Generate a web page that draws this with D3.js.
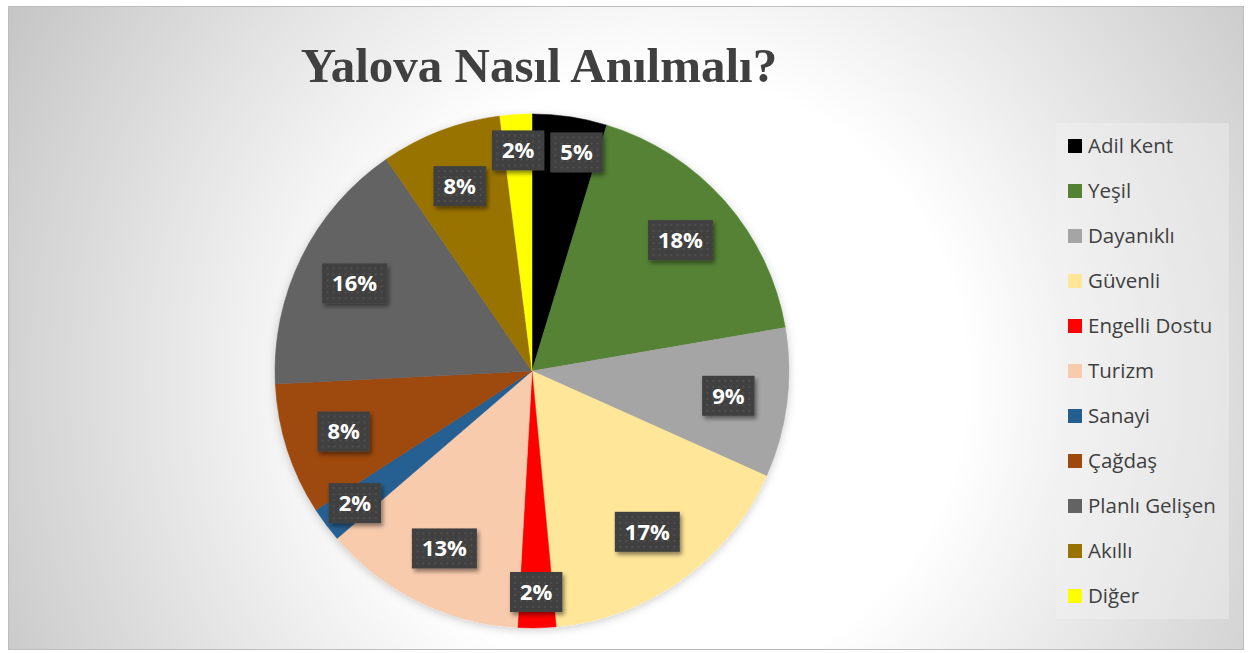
<!DOCTYPE html>
<html lang="en">

<head>
    <meta charset="UTF-8">
    <title>Yalova Nasıl Anılmalı?</title>
    <script src="https://d3js.org/d3.v7.min.js"></script>
</head>
<style>
    body {
        margin: 0;
        background: #ffffff;
    }
</style>

<body>
    <div id="chart"></div>
    <script>
        const categories = ["Adil Kent", "Yeşil", "Dayanıklı", "Güvenli", "Engelli Dostu", "Turizm", "Sanayi", "Çağdaş", "Planlı Gelişen", "Akıllı", "Diğer"];
        const values = [4.7, 17.6, 9.4, 16.8, 2.4, 12.8, 2.2, 8.3, 16.2, 7.6, 2.0];
        const colors = ["#000000", "#548235", "#a5a5a5", "#ffe699", "#ff0000", "#f8cbad", "#255e91", "#9e480e", "#636363", "#997300", "#ffff00"];
        const title = "Yalova Nasıl Anılmalı?";

        const width = 1250,
            height = 653;
        const cx = 532,
            cy = 371,
            radius = 257;

        const svg = d3.select('#chart')
            .append('svg')
            .attr('width', width)
            .attr('height', height);

        const defs = svg.append('defs');

        // background gradient, white around the pie
        const grad = defs.append('radialGradient')
            .attr('id', 'bg')
            .attr('gradientUnits', 'userSpaceOnUse')
            .attr('cx', 660)
            .attr('cy', 380)
            .attr('r', 760);
        grad.append('stop').attr('offset', 0).attr('stop-color', '#ffffff');
        grad.append('stop').attr('offset', 0.4).attr('stop-color', '#ffffff');
        grad.append('stop').attr('offset', 1).attr('stop-color', '#c4c4c4');

        // dotted texture for the label boxes
        const pat = defs.append('pattern')
            .attr('id', 'dots')
            .attr('patternUnits', 'userSpaceOnUse')
            .attr('width', 6)
            .attr('height', 6);
        pat.append('rect').attr('width', 6).attr('height', 6).attr('fill', '#404040');
        pat.append('circle').attr('cx', 3).attr('cy', 3).attr('r', 0.9).attr('fill', '#575757');

        const shadow = defs.append('filter')
            .attr('id', 'boxShadow')
            .attr('x', '-30%').attr('y', '-30%')
            .attr('width', '160%').attr('height', '160%');
        shadow.append('feDropShadow')
            .attr('dx', 2).attr('dy', 3)
            .attr('stdDeviation', 2)
            .attr('flood-color', '#000')
            .attr('flood-opacity', 0.45);

        const pieShadow = defs.append('filter')
            .attr('id', 'pieShadow')
            .attr('x', '-10%').attr('y', '-10%')
            .attr('width', '120%').attr('height', '120%');
        pieShadow.append('feDropShadow')
            .attr('dx', 0).attr('dy', 2)
            .attr('stdDeviation', 4)
            .attr('flood-color', '#000')
            .attr('flood-opacity', 0.2);

        // chart area
        svg.append('rect')
            .attr('x', 8.5)
            .attr('y', 6.5)
            .attr('width', 1235)
            .attr('height', 643)
            .attr('fill', 'url(#bg)')
            .attr('stroke', '#bdbdbd')
            .attr('stroke-width', 1);

        svg.append('text')
            .attr('x', 539)
            .attr('y', 82)
            .attr('text-anchor', 'middle')
            .attr('font-family', '"Liberation Serif", "Times New Roman", serif')
            .attr('font-weight', 'bold')
            .attr('font-size', '49px')
            .attr('fill', '#404040')
            .text(title);

        // pie
        const total = d3.sum(values);
        const pie = d3.pie().sort(null).value(d => d);
        const arcs = pie(values);
        const arc = d3.arc().innerRadius(0).outerRadius(radius);

        const pieG = svg.append('g')
            .attr('transform', `translate(${cx},${cy})`);

        pieG.append('g')
            .attr('filter', 'url(#pieShadow)')
            .selectAll('path')
            .data(arcs)
            .enter()
            .append('path')
            .attr('d', arc)
            .attr('fill', (d, i) => colors[i])
            .attr('stroke', (d, i) => colors[i])
            .attr('stroke-width', 0.5);

        // data labels
        const fmt = d3.format('.0%');
        const labels = pieG.selectAll('g.label')
            .data(arcs)
            .enter()
            .append('g')
            .attr('class', 'label');

        const labelText = labels.append('text')
            .attr('text-anchor', 'middle')
            .attr('dy', '0.36em')
            .attr('font-family', '"Open Sans", sans-serif')
            .attr('font-weight', 'bold')
            .attr('font-size', '22px')
            .attr('fill', '#ffffff')
            .text(d => fmt(d.value / total));

        // initial spot inside each slice, small slices nearer the rim
        const boxes = [];
        labelText.each(function(d) {
            const w = this.getComputedTextLength() + 20;
            const mid = (d.startAngle + d.endAngle) / 2;
            const rr = d.value / total < 0.06 ? radius * 0.86 : radius * 0.77;
            boxes.push({ x: rr * Math.sin(mid), y: -rr * Math.cos(mid), w: w, h: 40, v: d.value });
        });

        // push overlapping boxes apart sideways, the bigger slice moves
        for (let i = 0; i < boxes.length; i++) {
            const a = boxes[i],
                b = boxes[(i + boxes.length - 1) % boxes.length];
            const need = (a.w + b.w) / 2 + 6 - Math.abs(a.x - b.x);
            if (need > 0 && Math.abs(a.y - b.y) < (a.h + b.h) / 2) {
                const mover = a.v >= b.v ? a : b,
                    other = mover === a ? b : a;
                mover.x += mover.x >= other.x ? need : -need;
            }
        }

        labels.attr('transform', (d, i) => `translate(${boxes[i].x},${boxes[i].y})`);

        labels.insert('rect', 'text')
            .attr('x', (d, i) => -boxes[i].w / 2)
            .attr('y', -20)
            .attr('width', (d, i) => boxes[i].w)
            .attr('height', 40)
            .attr('fill', 'url(#dots)')
            .attr('filter', 'url(#boxShadow)');

        // legend
        const legend = svg.append('g');
        legend.append('rect')
            .attr('x', 1056)
            .attr('y', 123)
            .attr('width', 173)
            .attr('height', 496)
            .attr('fill', '#f2f2f2')
            .attr('fill-opacity', 0.4);

        const legendY = d3.scalePoint()
            .domain(categories)
            .range([146, 596]);

        const items = legend.selectAll('g.item')
            .data(categories)
            .enter()
            .append('g')
            .attr('class', 'item')
            .attr('transform', d => `translate(1068,${legendY(d)})`);

        items.append('rect')
            .attr('x', 0)
            .attr('y', -7)
            .attr('width', 14)
            .attr('height', 14)
            .attr('fill', (d, i) => colors[i]);

        items.append('text')
            .attr('x', 20)
            .attr('dy', '0.36em')
            .attr('font-family', '"Open Sans", sans-serif')
            .attr('font-size', '20.5px')
            .attr('fill', '#404040')
            .text(d => d);
    </script>
</body>

</html>
